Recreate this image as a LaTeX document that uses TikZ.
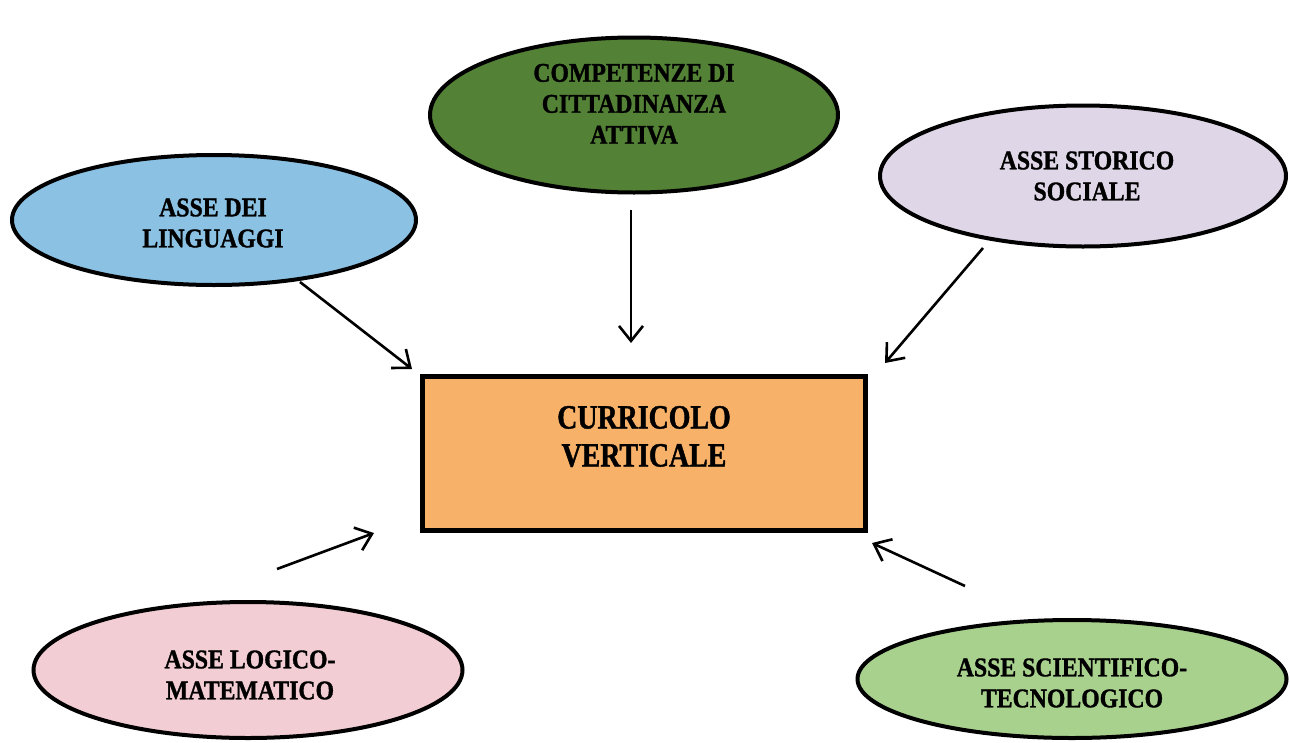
\documentclass[tikz,border=0pt]{standalone}
\usepackage{fontspec}
\setmainfont{Liberation Serif}
\newfontfamily\ovalfont[FakeStretch=0.88,FakeBold=1.2]{Liberation Serif}
\newfontfamily\boxfont[FakeStretch=0.82,FakeBold=1.2]{Liberation Serif}
\usetikzlibrary{arrows.meta,shapes.geometric}
\definecolor{cgreen}{HTML}{538135}
\definecolor{cblue}{HTML}{8BC2E4}
\definecolor{clav}{HTML}{DFD7E8}
\definecolor{cpink}{HTML}{F2CDD3}
\definecolor{clgreen}{HTML}{A9D18E}
\definecolor{corange}{HTML}{F8B168}
\tikzset{
  oval/.style={ellipse, draw=black, line width=4pt, inner sep=0pt},
  mainbox/.style={rectangle, draw=black, line width=5pt, fill=corange, inner sep=0pt},
  lbl/.style={font=\ovalfont\bfseries\fontsize{27}{31}\selectfont, align=center, inner sep=0pt},
  mainlbl/.style={font=\boxfont\bfseries\fontsize{34}{38}\selectfont, align=center, inner sep=0pt},
  conn/.style={line width=2.6pt, -{Straight Barb[length=15pt,width=24pt]}}
}
\begin{document}
\begin{tikzpicture}[x=1pt,y=-1pt]
\useasboundingbox[fill=white] (0,0) rectangle (1290,742);
% shapes
\node[mainbox, minimum width=443pt, minimum height=154pt,
  label={[mainlbl, yshift=17pt]center:CURRICOLO\\VERTICALE}] (box) at (644,453.5) {};
\node[oval, fill=cgreen, minimum width=408pt, minimum height=155pt,
  label={[lbl, yshift=11pt]center:COMPETENZE DI\\CITTADINANZA\\ATTIVA}] (comp) at (634,115) {};
\node[oval, fill=cblue, minimum width=404pt, minimum height=130pt,
  label={[lbl, yshift=-3pt, xshift=-1pt]center:ASSE DEI\\LINGUAGGI}] (ling) at (214,220) {};
\node[oval, fill=clav, minimum width=406pt, minimum height=141pt,
  label={[lbl, xshift=4pt]center:ASSE STORICO\\SOCIALE}] (stor) at (1083,176) {};
\node[oval, fill=cpink, minimum width=429pt, minimum height=136pt,
  label={[lbl, yshift=-5pt, xshift=2pt]center:ASSE LOGICO-\\MATEMATICO}] (logi) at (248,670) {};
\node[oval, fill=clgreen, minimum width=429pt, minimum height=118pt,
  label={[lbl, yshift=-4pt]center:ASSE SCIENTIFICO-\\TECNOLOGICO}] (scie) at (1072,679) {};
% connector ends
\coordinate (a1s) at (300,282);  \coordinate (a1e) at (412,369);
\coordinate (a2s) at (631,210);  \coordinate (a2e) at (631,343);
\coordinate (a3s) at (983,248);  \coordinate (a3e) at (885,363);
\coordinate (a4s) at (277,569);  \coordinate (a4e) at (374,533);
\coordinate (a5s) at (965,586);  \coordinate (a5e) at (872,543);
\draw[conn] (a1s) -- (a1e);
\draw[conn] (a2s) -- (a2e);
\draw[conn] (a3s) -- (a3e);
\draw[conn] (a4s) -- (a4e);
\draw[conn] (a5s) -- (a5e);
\end{tikzpicture}
\end{document}
